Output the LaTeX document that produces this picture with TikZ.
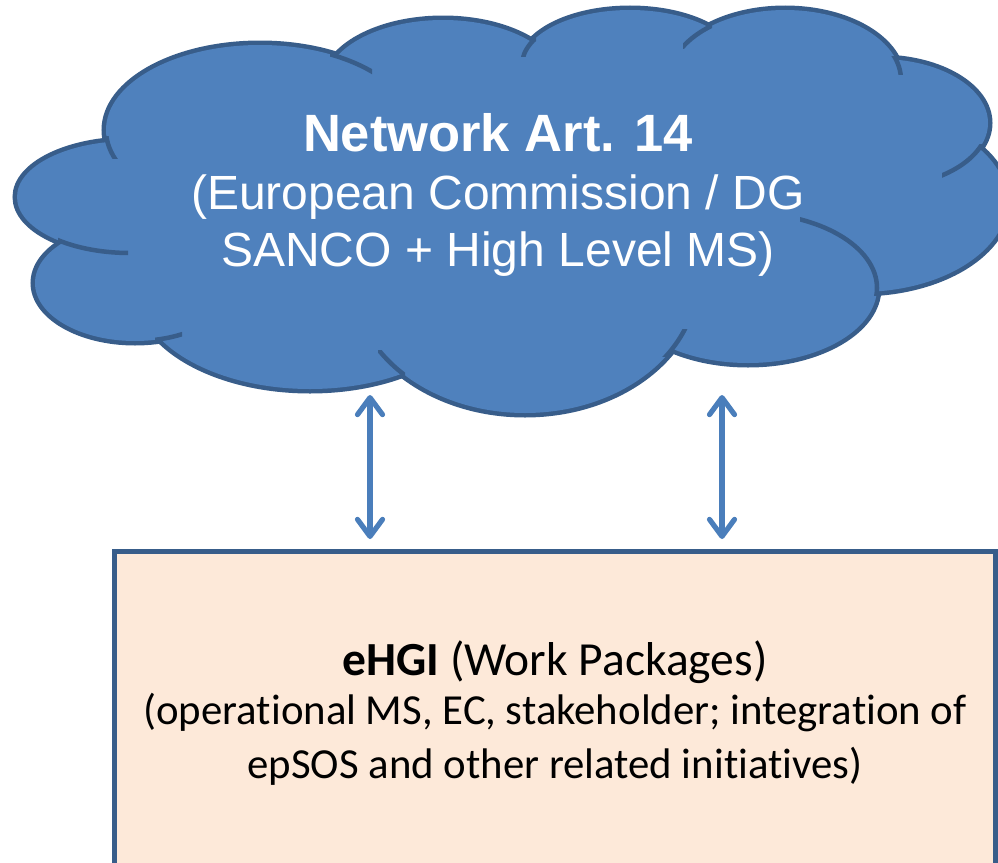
\documentclass[tikz,border=0pt]{standalone}
\usepackage{fontspec}
\usetikzlibrary{arrows.meta}
\newfontfamily\cloudfont{Liberation Sans}
\newfontfamily\boxfont[Ligatures=NoCommon]{Carlito}
\definecolor{cloudfill}{HTML}{4F81BD}
\definecolor{cloudline}{HTML}{385D8A}
\definecolor{boxfill}{HTML}{FDE9D9}
\definecolor{arrowblue}{HTML}{4A7EBB}
\tikzset{
  lobeline/.style={draw=cloudline, line width=9pt},
  lobefill/.style={fill=cloudfill},
  innerline/.style={draw=cloudline, line width=4.5pt},
  biarrow/.style={draw=arrowblue, line width=5.2pt,
    {Straight Barb[length=17pt,width=25pt,line cap=round,line join=round]}-{Straight Barb[length=17pt,width=25pt,line cap=round,line join=round]}},
  boxstyle/.style={draw=cloudline, fill=boxfill, line width=5pt, rectangle, inner sep=0pt,
    minimum width=881pt, minimum height=330pt},
  cloudtxt/.style={anchor=base, text=white, inner sep=0pt},
  boxtxt/.style={anchor=base, text=black, inner sep=0pt,
    font={\boxfont\fontsize{42.8pt}{52pt}\selectfont}}
}
\begin{document}
\begin{tikzpicture}[x=1pt,y=-1pt]
\useasboundingbox (0,0) rectangle (998,862);
% cloud: stroked lobes, then filled lobes on top
\def\lobes{130/197/113/56, 260/130/154/85, 443/85/118/65, 630/65/108/55,
  785/80/116/70, 880/123/108/64, 860/201.5/147/90.5, 748/288/129/75,
  525/280/172/133, 310/290/172/99, 135/283/100/58}
\foreach \cx/\cy/\rx/\ry in \lobes {
  \path[lobeline] (\cx,\cy) ellipse [x radius=\rx*1pt, y radius=\ry*1pt];
}
\foreach \cx/\cy/\rx/\ry in \lobes {
  \path[lobefill] (\cx,\cy) ellipse [x radius=\rx*1pt, y radius=\ry*1pt];
}
\path[lobefill] (510,200) ellipse [x radius=400pt, y radius=140pt];
% inner arcs of the cloud
\begin{scope}\clip (100,136) rectangle (118,158);
  \path[innerline] (260,130) ellipse [x radius=154pt, y radius=85pt];\end{scope}
\begin{scope}\clip (330,48) rectangle (372,75);
  \path[innerline] (260,130) ellipse [x radius=154pt, y radius=85pt];\end{scope}
\begin{scope}\clip (518,38) rectangle (536,56);
  \path[innerline] (630,65) ellipse [x radius=108pt, y radius=55pt];\end{scope}
\begin{scope}\clip (683,24) rectangle (712,48);
  \path[innerline] (785,80) ellipse [x radius=116pt, y radius=70pt];\end{scope}
\begin{scope}\clip (888,56) rectangle (905,74);
  \path[innerline] (785,80) ellipse [x radius=116pt, y radius=70pt];\end{scope}
\begin{scope}\clip (942,144) rectangle (985,178);
  \path[innerline] (880,123) ellipse [x radius=108pt, y radius=64pt];\end{scope}
\begin{scope}\clip (800,215) rectangle (880,295);
  \path[innerline] (748,288) ellipse [x radius=129pt, y radius=75pt];\end{scope}
\begin{scope}\clip (662,329) rectangle (692,356);
  \path[innerline] (525,280) ellipse [x radius=172pt, y radius=133pt];\end{scope}
\begin{scope}\clip (378,350) rectangle (405,376);
  \path[innerline] (525,280) ellipse [x radius=172pt, y radius=133pt];\end{scope}
\begin{scope}\clip (155,328) rectangle (182,345);
  \path[innerline] (135,283) ellipse [x radius=100pt, y radius=58pt];\end{scope}
\begin{scope}\clip (58,236) rectangle (128,258);
  \path[innerline] (130,197) ellipse [x radius=113pt, y radius=56pt];\end{scope}
% cloud text
\node[cloudtxt, font={\cloudfont\bfseries\fontsize{52.5pt}{60pt}\selectfont}] (net) at (498,151.7) {Network Art. 14};
\node[cloudtxt, font={\cloudfont\fontsize{48pt}{58pt}\selectfont}] (ec) at (498,209.3) {(European Commission / DG};
\node[cloudtxt, font={\cloudfont\fontsize{48pt}{58pt}\selectfont}] (sanco) at (498,266.7) {SANCO + High Level MS)};
% box
\node[boxstyle] (box) at (554.5,716.5) {};
\node[boxtxt, font={\boxfont\fontsize{47.5pt}{56pt}\selectfont}] (eh1) at (555,675) {\textbf{eHGI} (Work Packages)};
\node[boxtxt] (eh2) at (555,724) {(operational MS, EC, stakeholder; integration of};
\node[boxtxt] (eh3) at (555,778) {epSOS and other related initiatives)};
% arrows
\coordinate (cl1) at (370,395);
\coordinate (bx1) at (370,539);
\coordinate (cl2) at (722,395);
\coordinate (bx2) at (722,539);
\draw[biarrow] (cl1) -- (bx1);
\draw[biarrow] (cl2) -- (bx2);
\end{tikzpicture}
\end{document}
